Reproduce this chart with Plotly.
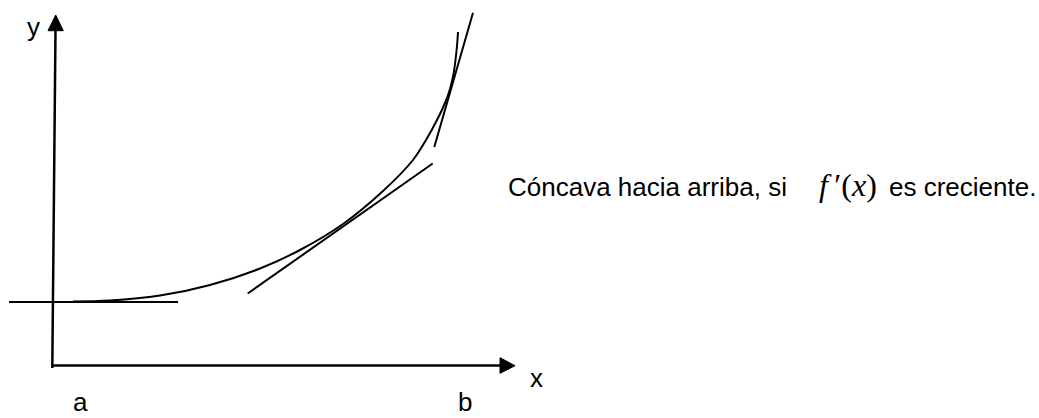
import plotly.graph_objects as go

# ---- data (diagram units = pixels, origin at the axes corner) ----
curve_x = [21, 58, 108, 158, 208, 248, 291, 331, 361, 374, 385, 393, 398, 401.5, 403.5, 405, 406]
curve_y = [64.5, 65.4, 70.4, 81, 97.5, 116, 142, 175, 206, 226, 246, 263, 277, 292, 306, 320, 334]

tan_flat_x = [-43, 126]
tan_flat_y = [64, 64]
tan_mid_x = [195.7, 380.7]
tan_mid_y = [72.5, 202.5]
tan_steep_x = [382.3, 421]
tan_steep_y = [219, 353.3]

yaxis_line_x = [0.3, 3.5]
yaxis_line_y = [-2, 336]
yarrow_x = [-4, 3.7, 11.3, -4]
yarrow_y = [335.3, 351, 335.3, 335.3]

xaxis_line_x = [0, 449]
xaxis_line_y = [0.5, 0.5]
xarrow_x = [448, 463, 448, 448]
xarrow_y = [8.3, 0.3, -7.3, 8.3]

labels = ["y", "x", "a", "b"]
labels_x = [-19, 484.5, 28, 413]
labels_y = [339.5, -12, -52, -52]
labels_anchor = ["middle", "middle", "bottom", "bottom"]

text_main = "Cóncava hacia arriba, si"
text_deriv = "<i>f</i>\u2009′(<i>x</i>)"
text_end = "es creciente."

W, H = 1039, 418
X0, Y0 = 52, 366  # pixel position of the origin

fig = go.Figure()

def line(xs, ys, w=2):
    fig.add_trace(go.Scatter(x=xs, y=ys, mode="lines",
                             line=dict(color="black", width=w),
                             hoverinfo="skip", showlegend=False))

def tri(xs, ys):
    fig.add_trace(go.Scatter(x=xs, y=ys, mode="lines", fill="toself",
                             fillcolor="black", line=dict(color="black", width=1),
                             hoverinfo="skip", showlegend=False))

fig.add_trace(go.Scatter(x=curve_x, y=curve_y, mode="lines",
                         line=dict(color="black", width=2, shape="spline", smoothing=1.0),
                         hoverinfo="skip", showlegend=False))
line(tan_flat_x, tan_flat_y)
line(tan_mid_x, tan_mid_y)
line(tan_steep_x, tan_steep_y)
line(yaxis_line_x, yaxis_line_y, 2.5)
line(xaxis_line_x, xaxis_line_y, 2.5)
tri(yarrow_x, yarrow_y)
tri(xarrow_x, xarrow_y)

sans = dict(family="Liberation Sans, Arial, sans-serif", size=26, color="black")
for t, lx, ly, ya in zip(labels, labels_x, labels_y, labels_anchor):
    fig.add_annotation(x=lx, y=ly, text=t, showarrow=False, font=sans,
                       xanchor="center", yanchor=ya, borderpad=0)

fig.add_annotation(x=454, y=179, text=text_main, showarrow=False, font=sans,
                   xanchor="left", yanchor="middle")
fig.add_annotation(x=765, y=181, text=text_deriv, showarrow=False,
                   font=dict(family="Liberation Serif, Times New Roman, serif", size=32, color="black"),
                   xanchor="left", yanchor="middle")
fig.add_annotation(x=835, y=179, text=text_end, showarrow=False, font=sans,
                   xanchor="left", yanchor="middle")

fig.update_layout(
    width=W, height=H, autosize=False,
    margin=dict(l=0, r=0, t=0, b=0),
    paper_bgcolor="white", plot_bgcolor="white",
    xaxis=dict(range=[-X0, W - X0], visible=False, fixedrange=True),
    yaxis=dict(range=[Y0 - H, Y0], visible=False, fixedrange=True),
    showlegend=False,
)

fig.write_html("out.html", config={"displayModeBar": False},
               post_script="document.body.style.margin='0';")
